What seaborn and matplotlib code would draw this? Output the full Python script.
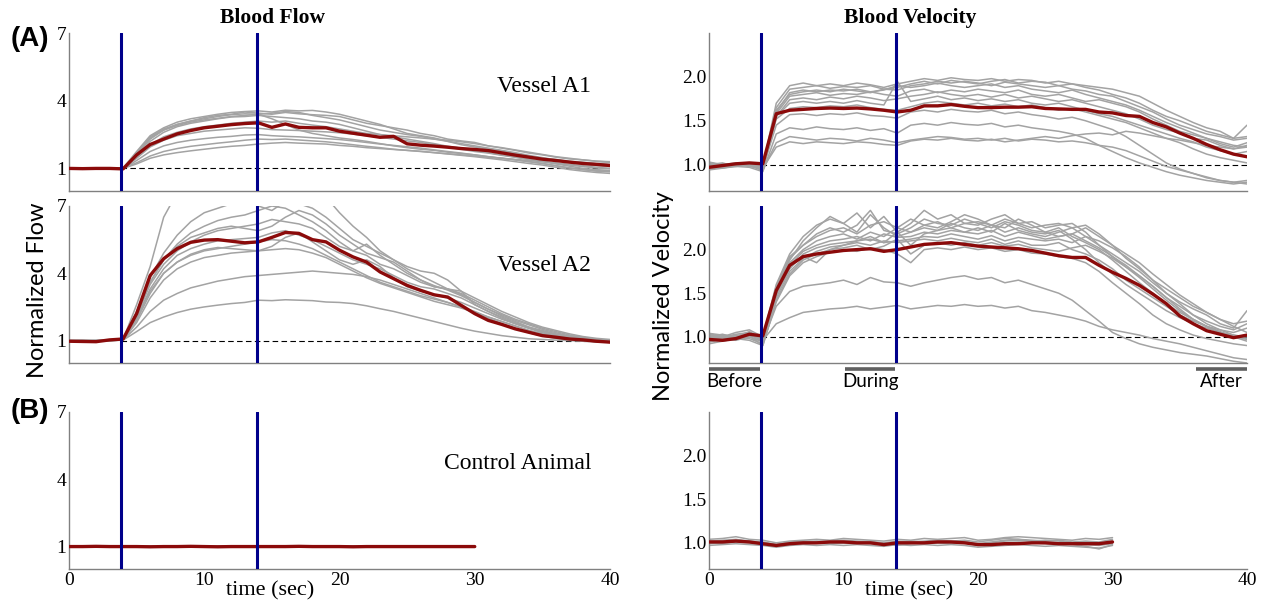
import numpy as np
import pandas as pd
import matplotlib
matplotlib.use("Agg")
import matplotlib.pyplot as plt
import seaborn as sns

# ---------------- data ----------------
TIME = list(range(0, 41))
TIME_CTRL = list(range(0, 31))
STIM_TIMES = [3.85, 13.9]
XTICKS = [0, 5, 10, 15, 20, 25, 30, 35, 40]
XTICKLABELS = ["0", "", "10", "", "20", "", "30", "", "40"]
FLOW_TICKS = [1, 4, 7]
FLOW_TICKLABELS = ["1", "4", "7"]
VEL_TICKS = [1.0, 1.5, 2.0]
VEL_TICKLABELS = ["1.0", "1.5", "2.0"]
PERIODS = ["Before", "During", "After"]
PERIOD_START = [0.0, 10.1, 36.2]
PERIOD_END = [3.8, 13.85, 40.0]

# Vessel A1 - flow
flow_a1_mean = [1.00, 0.99, 1.00, 1.00, 0.98,
                1.60, 2.06, 2.30, 2.53, 2.68,
                2.80, 2.87, 2.94, 2.99, 3.02,
                2.82, 2.97, 2.82, 2.80, 2.80,
                2.65, 2.56, 2.47, 2.38, 2.42,
                2.09, 2.03, 1.99, 1.94, 1.88,
                1.84, 1.79, 1.69, 1.59, 1.50,
                1.41, 1.35, 1.28, 1.22, 1.18,
                1.13]
flow_a1_traces = [
    [1.00, 1.01, 0.99, 1.00, 1.02, 1.75, 2.45, 2.80, 3.05, 3.20, 3.30, 3.40, 3.48, 3.52, 3.55,
     3.50, 3.58, 3.55, 3.57, 3.50, 3.40, 3.25, 3.10, 2.95, 2.75, 2.55, 2.45, 2.35, 2.20, 2.05,
     1.95, 1.85, 1.78, 1.65, 1.55, 1.45, 1.40, 1.32, 1.28, 1.22, 1.25],
    [0.98, 1.00, 1.02, 0.99, 1.00, 1.60, 2.30, 2.70, 2.95, 3.10, 3.25, 3.35, 3.40, 3.50, 3.45,
     3.40, 3.48, 3.42, 3.38, 3.35, 3.30, 3.15, 3.00, 2.90, 2.80, 2.70, 2.55, 2.45, 2.30, 2.22,
     2.15, 2.00, 1.90, 1.80, 1.68, 1.60, 1.50, 1.42, 1.38, 1.32, 1.30],
    [1.01, 0.99, 1.00, 1.01, 0.99, 1.70, 2.40, 2.75, 2.95, 3.10, 3.20, 3.30, 3.38, 3.42, 3.40,
     3.45, 3.52, 3.48, 3.35, 3.25, 3.15, 3.00, 2.85, 2.70, 2.60, 2.50, 2.42, 2.30, 2.20, 2.10,
     2.00, 1.90, 1.80, 1.70, 1.58, 1.48, 1.38, 1.28, 1.18, 1.12, 1.08],
    [1.00, 1.00, 0.99, 1.01, 1.00, 1.55, 2.20, 2.60, 2.85, 3.00, 3.10, 3.20, 3.28, 3.30, 3.35,
     3.30, 3.25, 3.20, 3.10, 3.05, 2.95, 2.80, 2.65, 2.50, 2.40, 2.30, 2.20, 2.10, 1.98, 1.90,
     1.80, 1.70, 1.60, 1.50, 1.40, 1.30, 1.20, 1.10, 1.00, 0.95, 0.90],
    [0.99, 1.01, 1.00, 0.98, 1.00, 1.65, 2.35, 2.70, 2.90, 3.05, 3.15, 3.22, 3.30, 3.35, 3.40,
     3.20, 2.95, 2.70, 2.55, 2.45, 2.35, 2.28, 2.20, 2.10, 2.00, 1.92, 1.85, 1.80, 1.72, 1.66,
     1.60, 1.52, 1.45, 1.38, 1.30, 1.22, 1.12, 1.02, 0.95, 0.88, 0.85],
    [1.00, 0.99, 1.01, 1.00, 1.01, 1.50, 2.05, 2.40, 2.60, 2.75, 2.85, 2.92, 3.00, 3.05, 3.10,
     3.05, 3.10, 3.00, 2.92, 2.85, 2.75, 2.65, 2.55, 2.50, 2.45, 2.40, 2.35, 2.30, 2.25, 2.18,
     2.10, 2.00, 1.92, 1.82, 1.72, 1.62, 1.52, 1.45, 1.38, 1.32, 1.28],
    [1.00, 1.01, 1.00, 0.99, 1.00, 1.45, 1.95, 2.25, 2.45, 2.55, 2.65, 2.70, 2.75, 2.80, 2.78,
     2.72, 2.70, 2.68, 2.65, 2.62, 2.58, 2.52, 2.45, 2.38, 2.30, 2.22, 2.15, 2.05, 1.95, 1.85,
     1.75, 1.68, 1.58, 1.50, 1.40, 1.32, 1.22, 1.15, 1.08, 1.02, 0.98],
    [0.99, 1.00, 1.01, 1.00, 0.99, 1.35, 1.75, 2.00, 2.15, 2.25, 2.32, 2.38, 2.42, 2.48, 2.50,
     2.45, 2.42, 2.40, 2.36, 2.32, 2.28, 2.22, 2.15, 2.08, 2.02, 1.96, 1.90, 1.82, 1.75, 1.68,
     1.60, 1.52, 1.45, 1.38, 1.30, 1.22, 1.12, 1.02, 0.95, 0.90, 0.88],
    [1.00, 1.00, 0.99, 1.00, 1.01, 1.25, 1.55, 1.75, 1.88, 1.98, 2.05, 2.12, 2.18, 2.25, 2.30,
     2.28, 2.30, 2.26, 2.22, 2.18, 2.12, 2.05, 1.98, 1.92, 1.85, 1.80, 1.75, 1.70, 1.64, 1.58,
     1.52, 1.45, 1.38, 1.30, 1.22, 1.15, 1.05, 0.95, 0.88, 0.82, 0.78],
    [1.01, 1.00, 1.00, 0.99, 1.00, 1.20, 1.45, 1.60, 1.70, 1.78, 1.85, 1.92, 1.98, 2.02, 2.08,
     2.12, 2.15, 2.12, 2.10, 2.08, 2.02, 1.98, 1.92, 1.88, 1.84, 1.80, 1.76, 1.70, 1.65, 1.60,
     1.55, 1.50, 1.45, 1.40, 1.35, 1.30, 1.25, 1.18, 1.12, 1.05, 1.00],
]

# Vessel A2 - flow
flow_a2_mean = [0.97, 0.96, 0.95, 1.03, 1.07,
                2.20, 3.90, 4.65, 5.10, 5.38,
                5.48, 5.50, 5.43, 5.36, 5.40,
                5.60, 5.82, 5.78, 5.50, 5.40,
                5.03, 4.73, 4.50, 4.06, 3.76,
                3.46, 3.24, 3.04, 2.94, 2.57,
                2.20, 1.90, 1.72, 1.52, 1.37,
                1.22, 1.15, 1.07, 1.03, 0.97,
                0.93]
flow_a2_traces = [
    [0.98, 1.00, 0.97, 1.02, 1.05, 2.60, 4.30, 6.50, 7.60, 8.00, 8.20, 8.30, 8.40, 8.50, 8.60,
     8.50, 8.40, 8.30, 8.00, 7.40, 6.70, 6.10, 5.60, 5.00, 4.60, 4.20, 3.90, 3.60, 3.30, 3.05,
     2.70, 2.40, 2.10, 1.85, 1.60, 1.45, 1.30, 1.20, 1.12, 1.05, 1.02],
    [1.00, 0.98, 0.99, 1.01, 1.04, 2.30, 3.80, 4.90, 5.70, 6.30, 6.70, 6.90, 7.10, 7.20, 7.00,
     6.80, 7.20, 7.10, 6.90, 6.50, 6.00, 5.50, 5.20, 4.90, 4.60, 4.30, 4.10, 4.00, 3.70, 3.20,
     2.60, 2.30, 2.00, 1.75, 1.55, 1.40, 1.28, 1.18, 1.10, 1.05, 1.00],
    [0.97, 0.99, 1.00, 1.00, 1.03, 2.20, 3.60, 4.60, 5.30, 5.80, 6.10, 6.35, 6.50, 6.60, 6.80,
     7.00, 6.90, 6.60, 6.30, 5.90, 5.40, 5.00, 4.80, 4.40, 4.20, 3.90, 3.60, 3.40, 3.30, 3.10,
     2.80, 2.50, 2.20, 1.95, 1.75, 1.55, 1.40, 1.25, 1.15, 1.05, 0.98],
    [0.99, 1.00, 0.98, 1.00, 1.05, 2.10, 3.50, 4.40, 5.00, 5.40, 5.70, 5.90, 6.00, 6.10, 6.20,
     6.40, 6.30, 6.20, 6.00, 5.60, 5.20, 5.00, 5.30, 4.80, 4.40, 4.00, 3.70, 3.45, 3.25, 3.00,
     2.70, 2.40, 2.15, 1.90, 1.70, 1.50, 1.35, 1.20, 1.10, 1.00, 0.95],
    [1.00, 1.01, 0.99, 1.02, 1.06, 2.00, 3.30, 4.20, 4.80, 5.10, 5.30, 5.45, 5.50, 5.55, 5.60,
     5.80, 5.90, 5.70, 5.50, 5.20, 4.90, 4.60, 4.40, 4.20, 3.90, 3.60, 3.40, 3.30, 3.10, 2.90,
     2.60, 2.30, 2.05, 1.80, 1.60, 1.40, 1.25, 1.12, 1.05, 0.98, 0.95],
    [0.98, 0.99, 1.00, 1.01, 1.04, 1.90, 3.10, 4.00, 4.50, 4.80, 5.00, 5.10, 5.20, 5.30, 5.40,
     5.50, 5.45, 5.30, 5.10, 4.80, 4.50, 4.20, 3.90, 3.60, 3.40, 3.20, 3.00, 2.85, 2.70, 2.50,
     2.30, 2.05, 1.85, 1.65, 1.45, 1.30, 1.18, 1.08, 1.00, 0.95, 0.92],
    [1.01, 1.00, 0.99, 1.00, 1.06, 2.00, 3.20, 4.00, 4.50, 4.85, 5.05, 5.15, 5.10, 5.05, 5.00,
     5.20, 5.60, 5.80, 5.40, 5.00, 4.60, 4.40, 4.60, 4.30, 3.80, 3.40, 3.20, 3.05, 2.90, 2.70,
     2.45, 2.20, 1.95, 1.75, 1.55, 1.35, 1.20, 1.10, 1.02, 0.98, 0.95],
    [0.99, 1.00, 1.01, 0.99, 1.03, 1.80, 2.90, 3.70, 4.20, 4.50, 4.70, 4.80, 4.90, 4.95, 5.00,
     5.05, 5.10, 5.05, 4.90, 4.70, 4.40, 4.10, 3.80, 3.55, 3.35, 3.15, 2.95, 2.75, 2.60, 2.45,
     2.25, 2.05, 1.85, 1.65, 1.45, 1.30, 1.20, 1.10, 1.02, 0.95, 0.92],
    [1.00, 0.98, 1.00, 1.01, 1.03, 1.60, 2.30, 2.80, 3.10, 3.35, 3.50, 3.65, 3.75, 3.85, 3.90,
     3.95, 4.00, 4.05, 4.10, 4.05, 4.00, 3.95, 3.85, 3.70, 3.50, 3.30, 3.10, 2.90, 2.70, 2.50,
     2.25, 2.00, 1.75, 1.55, 1.35, 1.20, 1.10, 1.02, 0.97, 0.95, 0.93],
    [0.99, 1.00, 1.00, 0.99, 1.02, 1.40, 1.80, 2.05, 2.25, 2.40, 2.50, 2.58, 2.65, 2.70, 2.80,
     2.78, 2.82, 2.80, 2.78, 2.72, 2.70, 2.65, 2.55, 2.42, 2.30, 2.15, 2.00, 1.85, 1.70, 1.55,
     1.42, 1.32, 1.22, 1.15, 1.08, 1.05, 1.02, 1.00, 0.98, 0.96, 0.95],
    [1.00, 1.00, 0.99, 1.02, 1.06, 2.10, 3.60, 4.60, 5.20, 5.60, 5.80, 6.00, 6.10, 6.00, 5.90,
     6.10, 6.50, 6.80, 6.60, 6.20, 5.70, 5.30, 4.90, 4.70, 4.50, 4.10, 3.70, 3.40, 3.30, 3.20,
     2.90, 2.60, 2.30, 2.05, 1.80, 1.60, 1.45, 1.30, 1.18, 1.10, 1.05],
]

# Vessel A1 - velocity
vel_a1_mean = [0.97, 0.99, 1.01, 1.02, 1.01,
               1.58, 1.62, 1.63, 1.64, 1.645,
               1.64, 1.645, 1.635, 1.62, 1.60,
               1.62, 1.67, 1.67, 1.685, 1.665,
               1.65, 1.65, 1.655, 1.655, 1.66,
               1.64, 1.635, 1.63, 1.63, 1.60,
               1.59, 1.56, 1.55, 1.48, 1.43,
               1.36, 1.30, 1.23, 1.17, 1.12,
               1.09]
vel_a1_traces = [
    [1.03, 1.00, 1.02, 1.01, 0.98, 1.70, 1.90, 1.93, 1.90, 1.92, 1.90, 1.93, 1.91, 1.88, 1.92,
     1.95, 1.98, 1.96, 1.99, 1.97, 1.96, 1.98, 1.95, 1.97, 1.96, 1.93, 1.95, 1.92, 1.90, 1.88,
     1.86, 1.82, 1.78, 1.70, 1.62, 1.55, 1.48, 1.42, 1.38, 1.30, 1.45],
    [0.98, 1.01, 0.99, 1.02, 0.96, 1.65, 1.86, 1.88, 1.90, 1.87, 1.89, 1.88, 1.90, 1.86, 1.85,
     1.90, 1.92, 1.95, 1.93, 1.95, 1.93, 1.90, 1.94, 1.92, 1.90, 1.88, 1.90, 1.86, 1.84, 1.80,
     1.78, 1.72, 1.66, 1.60, 1.52, 1.45, 1.40, 1.35, 1.32, 1.28, 1.30],
    [0.96, 0.98, 1.00, 0.99, 0.94, 1.60, 1.82, 1.85, 1.83, 1.85, 1.84, 1.86, 1.83, 1.85, 1.90,
     1.88, 1.90, 1.93, 1.90, 1.88, 1.90, 1.92, 1.88, 1.90, 1.86, 1.84, 1.82, 1.85, 1.80, 1.76,
     1.72, 1.68, 1.62, 1.55, 1.48, 1.42, 1.36, 1.30, 1.26, 1.22, 1.20],
    [1.00, 0.97, 1.01, 1.00, 0.97, 1.58, 1.78, 1.80, 1.82, 1.79, 1.81, 1.80, 1.83, 1.80, 1.78,
     1.84, 1.86, 1.82, 1.85, 1.83, 1.86, 1.84, 1.82, 1.85, 1.80, 1.78, 1.80, 1.76, 1.72, 1.74,
     1.70, 1.66, 1.60, 1.52, 1.45, 1.38, 1.34, 1.30, 1.24, 1.20, 1.25],
    [0.95, 0.97, 0.98, 1.00, 0.93, 1.55, 1.74, 1.76, 1.74, 1.77, 1.75, 1.78, 1.76, 1.73, 1.75,
     1.78, 1.80, 1.83, 1.80, 1.78, 1.80, 1.77, 1.80, 1.76, 1.78, 1.75, 1.72, 1.74, 1.70, 1.66,
     1.62, 1.58, 1.52, 1.45, 1.40, 1.36, 1.30, 1.28, 1.22, 1.18, 1.22],
    [1.02, 1.00, 0.99, 1.01, 0.97, 1.55, 1.70, 1.72, 1.70, 1.72, 1.70, 1.73, 1.70, 1.68, 1.95,
     1.72, 1.75, 1.78, 1.74, 1.76, 1.73, 1.75, 1.72, 1.74, 1.70, 1.68, 1.70, 1.66, 1.62, 1.58,
     1.55, 1.50, 1.45, 1.40, 1.35, 1.30, 1.26, 1.20, 1.16, 1.12, 1.15],
    [0.97, 0.99, 1.00, 0.98, 0.95, 1.52, 1.64, 1.66, 1.65, 1.67, 1.66, 1.68, 1.65, 1.63, 1.62,
     1.66, 1.70, 1.72, 1.70, 1.68, 1.70, 1.67, 1.69, 1.66, 1.68, 1.65, 1.62, 1.64, 1.60, 1.56,
     1.52, 1.48, 1.42, 1.36, 1.30, 1.25, 1.18, 1.12, 1.08, 1.05, 1.02],
    [1.00, 1.02, 0.98, 1.00, 0.96, 1.45, 1.57, 1.58, 1.56, 1.58, 1.57, 1.59, 1.56, 1.55, 1.53,
     1.60, 1.62, 1.60, 1.63, 1.61, 1.60, 1.62, 1.58, 1.60, 1.57, 1.55, 1.52, 1.54, 1.50, 1.45,
     1.40, 1.32, 1.22, 1.12, 1.02, 0.95, 0.90, 0.85, 0.82, 0.80, 0.82],
    [0.94, 0.96, 0.98, 0.97, 0.92, 1.35, 1.42, 1.40, 1.43, 1.41, 1.40, 1.42, 1.39, 1.41, 1.36,
     1.45, 1.47, 1.45, 1.48, 1.46, 1.45, 1.47, 1.43, 1.45, 1.42, 1.40, 1.38, 1.35, 1.30, 1.22,
     1.15, 1.08, 1.02, 0.97, 0.92, 0.88, 0.85, 0.82, 0.80, 0.78, 0.80],
    [0.98, 0.96, 0.99, 1.00, 0.94, 1.25, 1.32, 1.30, 1.28, 1.30, 1.29, 1.27, 1.30, 1.28, 1.25,
     1.28, 1.30, 1.32, 1.31, 1.29, 1.30, 1.28, 1.30, 1.27, 1.29, 1.28, 1.26, 1.27, 1.25, 1.22,
     1.20, 1.16, 1.10, 1.04, 0.98, 0.94, 0.90, 0.86, 0.82, 0.80, 0.78],
    [1.01, 0.99, 1.00, 1.02, 0.96, 1.20, 1.26, 1.24, 1.26, 1.25, 1.24, 1.26, 1.25, 1.23, 1.22,
     1.27, 1.29, 1.28, 1.30, 1.28, 1.27, 1.29, 1.26, 1.28, 1.30, 1.32, 1.30, 1.33, 1.35, 1.36,
     1.34, 1.38, 1.36, 1.33, 1.30, 1.28, 1.25, 1.22, 1.20, 1.18, 1.20],
    [0.99, 1.01, 1.00, 0.99, 0.97, 1.62, 1.80, 1.83, 1.85, 1.83, 1.86, 1.84, 1.82, 1.86, 1.88,
     1.92, 1.95, 1.92, 1.96, 1.94, 1.92, 1.95, 1.97, 1.93, 1.95, 1.94, 1.90, 1.92, 1.88, 1.85,
     1.80, 1.76, 1.70, 1.62, 1.55, 1.50, 1.44, 1.38, 1.34, 1.30, 1.32],
]

# Vessel A2 - velocity
vel_a2_mean = [0.97, 0.96, 0.98, 1.03, 1.01,
               1.53, 1.82, 1.92, 1.95, 1.97,
               1.99, 2.00, 2.01, 1.98, 2.00,
               2.03, 2.06, 2.07, 2.08, 2.06,
               2.04, 2.03, 2.02, 2.01, 1.99,
               1.96, 1.93, 1.91, 1.91, 1.82,
               1.74, 1.67, 1.59, 1.49, 1.38,
               1.24, 1.15, 1.07, 1.03, 0.99,
               1.02]
vel_a2_traces = [
    [1.02, 1.00, 1.05, 1.08, 1.00, 1.60, 1.95, 2.15, 2.28, 2.35, 2.30, 2.42, 2.25, 2.38, 2.20,
     2.30, 2.45, 2.35, 2.40, 2.30, 2.28, 2.35, 2.40, 2.30, 2.32, 2.25, 2.28, 2.30, 2.20, 2.05,
     1.95, 1.85, 1.75, 1.62, 1.50, 1.40, 1.32, 1.25, 1.15, 1.10, 1.30],
    [0.98, 1.02, 1.00, 1.04, 0.95, 1.55, 1.90, 2.05, 2.18, 2.25, 2.20, 2.28, 2.45, 2.22, 2.18,
     2.25, 2.35, 2.30, 2.28, 2.35, 2.30, 2.25, 2.32, 2.28, 2.22, 2.20, 2.15, 2.18, 2.25, 2.15,
     2.05, 1.90, 1.78, 1.65, 1.55, 1.45, 1.35, 1.28, 1.20, 1.15, 1.18],
    [0.96, 0.98, 1.01, 1.02, 0.98, 1.50, 1.85, 2.00, 2.10, 2.15, 2.18, 2.12, 2.20, 2.15, 2.25,
     2.20, 2.25, 2.22, 2.30, 2.25, 2.22, 2.28, 2.20, 2.25, 2.20, 2.18, 2.22, 2.12, 2.00, 1.85,
     1.72, 1.60, 1.50, 1.40, 1.30, 1.22, 1.15, 1.10, 1.05, 1.02, 1.00],
    [1.00, 0.97, 0.99, 1.03, 0.96, 1.52, 1.82, 1.98, 2.05, 2.10, 2.12, 2.15, 2.10, 2.18, 2.14,
     2.15, 2.20, 2.18, 2.22, 2.20, 2.18, 2.22, 2.15, 2.20, 2.16, 2.12, 2.15, 2.18, 2.10, 2.02,
     1.92, 1.80, 1.68, 1.55, 1.42, 1.30, 1.20, 1.12, 1.08, 1.05, 1.10],
    [0.94, 0.97, 1.00, 0.98, 0.92, 1.48, 1.78, 1.95, 2.02, 2.06, 2.08, 2.10, 2.12, 2.08, 2.10,
     2.12, 2.15, 2.14, 2.18, 2.15, 2.12, 2.16, 2.10, 2.14, 2.12, 2.10, 2.12, 2.08, 2.15, 2.10,
     2.02, 1.92, 1.80, 1.65, 1.50, 1.38, 1.25, 1.15, 1.08, 1.02, 0.98],
    [1.03, 1.01, 0.98, 1.00, 1.02, 1.45, 1.75, 1.90, 1.98, 2.03, 2.05, 2.08, 2.05, 2.10, 2.08,
     2.10, 2.12, 2.10, 2.13, 2.10, 2.08, 2.12, 2.06, 2.10, 2.05, 2.05, 2.08, 2.00, 1.95, 1.88,
     1.78, 1.65, 1.55, 1.45, 1.35, 1.25, 1.18, 1.12, 1.06, 1.00, 0.95],
    [0.97, 1.00, 1.02, 1.01, 0.90, 1.42, 1.72, 1.88, 1.95, 2.00, 2.02, 2.05, 2.00, 2.04, 2.12,
     1.95, 2.05, 2.08, 2.05, 2.08, 2.05, 2.08, 2.04, 2.06, 2.02, 2.00, 1.98, 2.02, 2.05, 1.98,
     1.90, 1.80, 1.70, 1.58, 1.45, 1.32, 1.20, 1.12, 1.05, 1.00, 1.02],
    [1.01, 0.99, 1.03, 1.05, 0.97, 1.50, 1.80, 1.92, 1.85, 2.00, 2.05, 2.10, 2.15, 2.08, 2.20,
     2.05, 2.18, 2.22, 2.25, 2.20, 2.25, 2.20, 2.30, 2.22, 2.18, 2.15, 2.20, 2.25, 2.28, 2.18,
     2.05, 1.95, 1.85, 1.72, 1.60, 1.48, 1.38, 1.28, 1.20, 1.12, 1.05],
    [0.95, 0.98, 0.96, 1.00, 0.94, 1.55, 1.88, 2.10, 2.25, 2.38, 2.30, 2.20, 2.40, 2.25, 2.15,
     2.20, 2.28, 2.25, 2.32, 2.40, 2.35, 2.28, 2.25, 2.35, 2.28, 2.20, 2.25, 2.15, 2.08, 2.00,
     1.88, 1.75, 1.62, 1.50, 1.38, 1.28, 1.20, 1.12, 1.05, 1.00, 0.97],
    [0.98, 1.00, 1.02, 1.00, 0.95, 1.35, 1.52, 1.58, 1.60, 1.62, 1.65, 1.60, 1.68, 1.63, 1.62,
     1.58, 1.62, 1.65, 1.68, 1.70, 1.66, 1.68, 1.62, 1.65, 1.60, 1.55, 1.50, 1.42, 1.30, 1.18,
     1.05, 0.98, 0.92, 0.88, 0.85, 0.82, 0.80, 0.78, 0.75, 0.72, 0.70],
    [1.00, 1.03, 0.99, 1.02, 0.96, 1.15, 1.22, 1.28, 1.30, 1.32, 1.33, 1.35, 1.32, 1.34, 1.36,
     1.32, 1.34, 1.36, 1.35, 1.37, 1.35, 1.36, 1.33, 1.35, 1.30, 1.28, 1.25, 1.22, 1.18, 1.12,
     1.08, 1.05, 1.02, 0.98, 0.95, 0.92, 0.88, 0.84, 0.80, 0.76, 0.74],
    [1.04, 1.02, 1.00, 1.06, 0.98, 1.58, 1.92, 2.05, 2.15, 2.22, 2.25, 2.18, 2.28, 2.32, 2.25,
     2.35, 2.28, 2.32, 2.25, 2.30, 2.32, 2.28, 2.35, 2.30, 2.25, 2.28, 2.30, 2.25, 2.15, 2.05,
     1.92, 1.82, 1.70, 1.58, 1.45, 1.35, 1.25, 1.18, 1.12, 1.08, 1.15],
    [0.92, 0.95, 0.98, 0.96, 0.90, 1.40, 1.70, 1.85, 1.92, 1.97, 2.00, 1.98, 2.02, 2.00, 1.95,
     1.85, 2.00, 2.02, 2.00, 2.03, 2.00, 2.02, 1.98, 2.00, 1.96, 1.95, 1.92, 1.90, 1.85, 1.75,
     1.62, 1.50, 1.38, 1.25, 1.15, 1.08, 1.02, 0.98, 0.95, 0.92, 0.90],
]

# Control animal - flow
flow_ctrl_mean = [1.00, 1.00, 1.01, 1.00, 1.00, 1.00, 0.99, 1.00, 1.00, 1.01,
                  1.00, 0.99, 1.00, 1.00, 1.00, 1.00, 1.00, 1.01, 1.00, 1.00,
                  1.00, 0.99, 1.00, 1.00, 1.00, 1.00, 1.00, 1.00, 1.00, 1.00,
                  1.00]
flow_ctrl_traces = [
    [1.02, 1.01, 1.03, 1.02, 1.01, 1.00, 1.02, 1.01, 1.03, 1.02,
     1.01, 1.02, 1.03, 1.01, 1.02, 1.01, 1.03, 1.02, 1.01, 1.02,
     1.01, 1.03, 1.02, 1.01, 1.02, 1.03, 1.01, 1.02, 1.01, 1.03, 1.02],
    [0.98, 0.99, 0.97, 0.98, 0.99, 0.98, 0.97, 0.99, 0.98, 0.97,
     0.99, 0.98, 0.97, 0.98, 0.99, 0.97, 0.98, 0.99, 0.98, 0.97,
     0.98, 0.99, 0.97, 0.98, 0.99, 0.98, 0.97, 0.98, 0.99, 0.98, 0.97],
    [1.00, 1.01, 1.00, 0.99, 1.00, 1.01, 1.00, 0.99, 1.01, 1.00,
     0.99, 1.00, 1.01, 1.00, 0.99, 1.01, 1.00, 0.99, 1.00, 1.01,
     1.00, 0.99, 1.01, 1.00, 0.99, 1.00, 1.01, 1.00, 0.99, 1.00, 1.01],
]

# Control animal - velocity
vel_ctrl_mean = [1.01, 1.01, 1.02, 1.01, 0.99, 0.97, 0.99, 1.00, 1.00, 1.01,
                 1.01, 1.00, 1.00, 0.98, 1.00, 1.00, 1.00, 1.01, 1.01, 1.00,
                 0.98, 0.98, 0.99, 0.99, 1.00, 1.00, 0.99, 0.99, 0.99, 0.99,
                 1.01]
vel_ctrl_traces = [
    [1.04, 1.05, 1.07, 1.04, 1.03, 1.00, 1.02, 1.03, 1.04, 1.03,
     1.05, 1.04, 1.03, 1.02, 1.04, 1.03, 1.05, 1.04, 1.05, 1.06,
     1.03, 1.04, 1.06, 1.07, 1.06, 1.05, 1.04, 1.03, 1.05, 1.04, 1.06],
    [1.02, 1.03, 1.04, 1.02, 1.00, 0.98, 1.01, 1.02, 1.01, 1.02,
     1.03, 1.02, 1.01, 1.00, 1.02, 1.01, 1.02, 1.03, 1.02, 1.03,
     1.01, 1.03, 1.05, 1.04, 1.03, 1.02, 1.03, 1.01, 1.02, 1.01, 1.04],
    [0.99, 1.00, 1.01, 1.00, 0.98, 0.96, 0.98, 0.99, 1.00, 0.99,
     1.00, 0.99, 1.00, 0.97, 0.99, 1.00, 0.99, 1.00, 0.99, 1.00,
     0.97, 0.98, 1.00, 1.01, 1.00, 0.99, 0.98, 0.99, 0.98, 0.97, 0.99],
    [0.97, 0.98, 0.99, 0.98, 0.97, 0.95, 0.97, 0.98, 0.97, 0.98,
     0.97, 0.98, 0.97, 0.96, 0.98, 0.97, 0.98, 0.97, 0.98, 0.97,
     0.95, 0.96, 0.97, 0.98, 0.97, 0.96, 0.97, 0.96, 0.95, 0.94, 0.97],
    [1.00, 0.99, 1.02, 1.01, 0.99, 0.97, 0.99, 1.00, 1.01, 1.00,
     1.02, 1.00, 0.99, 0.98, 0.97, 0.99, 1.00, 1.01, 1.00, 1.02,
     0.98, 1.00, 1.02, 1.03, 1.02, 1.01, 1.00, 0.98, 0.96, 0.93, 0.98],
    [1.02, 1.01, 1.03, 1.02, 1.01, 0.98, 1.00, 1.01, 1.02, 1.01,
     1.00, 1.01, 1.02, 0.99, 1.01, 1.02, 1.01, 1.00, 1.01, 1.01,
     0.99, 1.01, 1.03, 1.04, 1.02, 1.03, 1.02, 1.00, 1.01, 1.00, 1.02],
]

# ---------------- style ----------------
GRAY = "#a3a3a3"
RED = "#8b0a0a"
BLUE = "#00008b"
SPINE = "#808080"

sns.set_style("white")
plt.rcParams["font.family"] = ["Liberation Serif", "DejaVu Serif"]
plt.rcParams["text.color"] = "black"
plt.rcParams["xtick.labelcolor"] = "black"
plt.rcParams["ytick.labelcolor"] = "black"
SANS = ["Lato", "DejaVu Sans"]


def long_df(traces, time):
    rows = []
    for i, tr in enumerate(traces):
        assert len(tr) == len(time), (i, len(tr))
        for t, v in zip(time, tr):
            rows.append((i, t, v))
    return pd.DataFrame(rows, columns=["trace", "time", "value"])


def draw(ax, traces, mean, time, ylim, yticks, yticklabels, dashed, xlabels):
    sns.lineplot(data=long_df(traces, time), x="time", y="value", units="trace",
                 estimator=None, color=GRAY, lw=1.1, ax=ax, legend=False, zorder=2)
    assert len(mean) == len(time)
    sns.lineplot(x=time, y=mean, color=RED, lw=2.4, ax=ax, estimator=None, zorder=3)
    if dashed:
        ax.hlines(1, STIM_TIMES[0], 40, colors="k", linestyles=(0, (5, 3)), lw=0.8, zorder=1)
    for s in STIM_TIMES:
        ax.axvline(s, color=BLUE, lw=2.2, zorder=4)
    ax.set_xlim(0, 40)
    ax.set_ylim(*ylim)
    ax.set_yticks(yticks)
    ax.set_yticklabels(yticklabels)
    ax.set_xticks(XTICKS)
    ax.set_xticklabels(XTICKLABELS if xlabels else [""] * len(XTICKS))
    ax.set_xlabel("")
    ax.set_ylabel("")
    for sp in ["top", "right"]:
        ax.spines[sp].set_visible(False)
    for sp in ["left", "bottom"]:
        ax.spines[sp].set_color(SPINE)
        ax.spines[sp].set_linewidth(1.0)
    ax.tick_params(direction="in", length=4, width=1, color=SPINE, labelsize=14,
                   pad=2, labelcolor="black")


W, H = 1262, 601
fig = plt.figure(figsize=(W / 100, H / 100), dpi=100)


def add_ax(x0, x1, ytop, ybot):
    return fig.add_axes([x0 / W, 1 - ybot / H, (x1 - x0) / W, (ybot - ytop) / H])


LX0, LX1 = 69, 610
RX0, RX1 = 709, 1247
ROWS = [(33, 191), (206, 363), (412, 569)]

FLOW_LIM = (0, 7)
VEL_LIM = (0.7, 2.5)

ax = add_ax(LX0, LX1, *ROWS[0])
draw(ax, flow_a1_traces, flow_a1_mean, TIME, FLOW_LIM, FLOW_TICKS, FLOW_TICKLABELS, True, False)
ax.text(0.965, 0.66, "Vessel A1", transform=ax.transAxes, ha="right", va="center", fontsize=17)

ax = add_ax(RX0, RX1, *ROWS[0])
draw(ax, vel_a1_traces, vel_a1_mean, TIME, VEL_LIM, VEL_TICKS, VEL_TICKLABELS, True, False)

ax = add_ax(LX0, LX1, *ROWS[1])
draw(ax, flow_a2_traces, flow_a2_mean, TIME, FLOW_LIM, FLOW_TICKS, FLOW_TICKLABELS, True, False)
ax.text(0.965, 0.62, "Vessel A2", transform=ax.transAxes, ha="right", va="center", fontsize=17)

ax = add_ax(RX0, RX1, *ROWS[1])
draw(ax, vel_a2_traces, vel_a2_mean, TIME, VEL_LIM, VEL_TICKS, VEL_TICKLABELS, True, False)
xt = ax.get_xaxis_transform()
for name, a, b in zip(PERIODS, PERIOD_START, PERIOD_END):
    ax.plot([a, b], [-0.038, -0.038], color="#606060", lw=2.6, transform=xt,
            clip_on=False, solid_capstyle="butt")
    ax.text((a + b) / 2, -0.12, name, transform=xt, ha="center", va="center",
            fontsize=13.5, family=SANS)

ax = add_ax(LX0, LX1, *ROWS[2])
draw(ax, flow_ctrl_traces, flow_ctrl_mean, TIME_CTRL, FLOW_LIM, FLOW_TICKS, FLOW_TICKLABELS, False, True)
ax.text(0.965, 0.675, "Control Animal", transform=ax.transAxes, ha="right", va="center", fontsize=17)

ax = add_ax(RX0, RX1, *ROWS[2])
draw(ax, vel_ctrl_traces, vel_ctrl_mean, TIME_CTRL, VEL_LIM, VEL_TICKS, VEL_TICKLABELS, False, True)

# figure-level texts
fig.text(272 / W, 1 - 18 / H, "Blood Flow", ha="center", va="center", fontsize=15.5, fontweight="bold")
fig.text(910 / W, 1 - 18 / H, "Blood Velocity", ha="center", va="center", fontsize=15.5, fontweight="bold")
fig.text(30 / W, 1 - 39 / H, "(A)", ha="center", va="center", fontsize=20, fontweight="bold",
         family=["Liberation Sans", "DejaVu Sans"])
fig.text(30 / W, 1 - 411 / H, "(B)", ha="center", va="center", fontsize=20, fontweight="bold",
         family=["Liberation Sans", "DejaVu Sans"])
fig.text(38 / W, 1 - 290 / H, "Normalized Flow", rotation=90, ha="center", va="center",
         fontsize=17, family=SANS)
fig.text(664 / W, 1 - 296 / H, "Normalized Velocity", rotation=90, ha="center", va="center",
         fontsize=17, family=SANS)
fig.text(270 / W, 1 - 591 / H, "time (sec)", ha="center", va="center", fontsize=16)
fig.text(909 / W, 1 - 591 / H, "time (sec)", ha="center", va="center", fontsize=16)

fig.savefig("out.png", dpi=100)
